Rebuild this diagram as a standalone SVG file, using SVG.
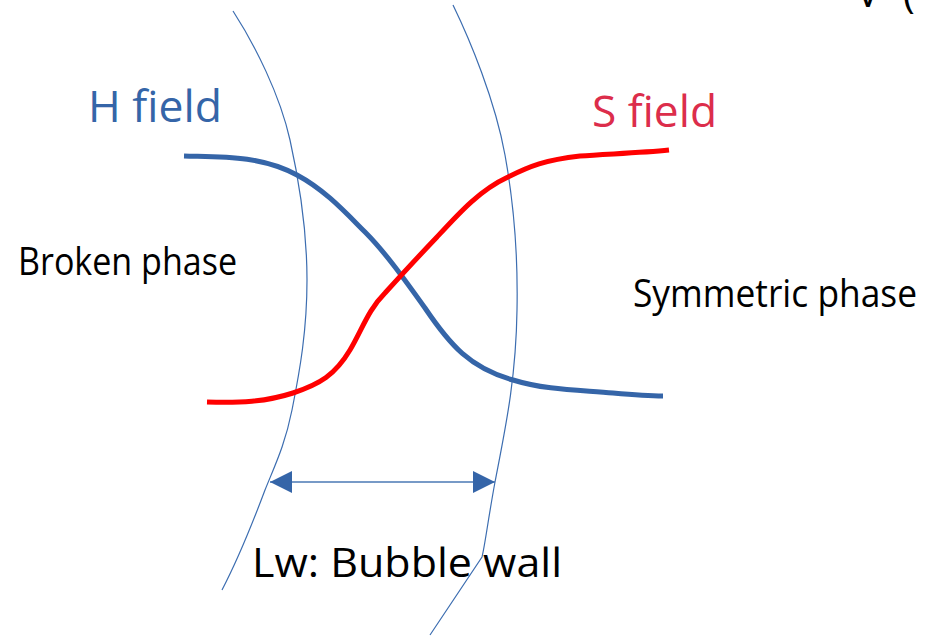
<svg xmlns="http://www.w3.org/2000/svg" width="925" height="638" viewBox="0 0 925 638">
<style>
.t{font-family:"Open Sans","Liberation Sans",sans-serif;fill:#000}
.wall{fill:none;stroke:#3c6db0;stroke-width:1.2}
.thick{fill:none;stroke-width:5;stroke-linecap:butt;stroke-linejoin:round}
</style>
<defs>
<marker id="ah" viewBox="0 0 22 22" refX="22" refY="11" markerWidth="22" markerHeight="22" markerUnits="userSpaceOnUse" orient="auto-start-reverse">
<path d="M0,0 L22,11 L0,22 Z" fill="#3565a8"/>
</marker>
</defs>
<rect width="925" height="638" fill="#fff"/>
<g id="walls">
<path class="wall" d="M233,11 C255,45 280,95 290,140 C300,185 307,230 307,280 C307,330 300,370 292,410 C285,445 275,465 265,490 C250,530 235,565 222,590"/>
<path class="wall" d="M453,5 C470,40 495,100 505,155 C515,210 518,260 517,310 C516,380 505,430 495,482 C488,520 485,545 482,557 L430,635"/>
</g>
<g id="connectors">
<path id="h-curve" class="thick" stroke="#3565a8" d="M184,156 C220,157 260,155 297,175 C325,190 345,212 365,232 C385,252 405,280 425,308 C450,345 470,368 513,380 C545,390 580,390 613,393 C635,395 650,396 663,396"/>
<path id="s-curve" class="thick" stroke="#ff0000" d="M207,402 C240,403 265,402 293,393 C320,384 335,375 350,350 C362,330 368,310 385,293 C395,282 415,260 437,237 C460,212 480,190 508,177 C530,166 545,160 580,156 C605,154 640,153 669,150"/>
<line id="lw-arrow" x1="270" y1="482" x2="495" y2="482" stroke="#4a78b5" stroke-width="1.5" marker-start="url(#ah)" marker-end="url(#ah)"/>
</g>
<g id="h-label"><text class="t" x="88" y="122" font-size="44" textLength="134" lengthAdjust="spacingAndGlyphs" style="fill:#3565a8">H field</text></g>
<g id="s-label"><text class="t" x="592" y="127" font-size="44" textLength="125" lengthAdjust="spacingAndGlyphs" style="fill:#dc2d4b">S field</text></g>
<g id="broken"><text class="t" x="18" y="275" font-size="38" textLength="219" lengthAdjust="spacingAndGlyphs">Broken phase</text></g>
<g id="symmetric"><text class="t" x="633" y="307" font-size="38" textLength="284" lengthAdjust="spacingAndGlyphs">Symmetric phase</text></g>
<g id="wall-label"><text class="t" x="252" y="577" font-size="40" textLength="310" lengthAdjust="spacingAndGlyphs">Lw: Bubble wall</text></g>
<g id="corner"><text class="t" x="856" y="7" font-size="40">V</text><text class="t" x="903" y="8" font-size="40">(</text></g>
</svg>
